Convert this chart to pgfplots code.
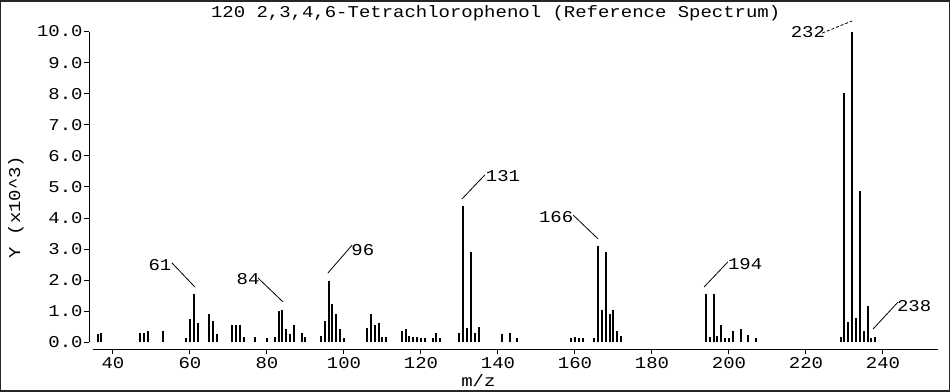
\documentclass[border=0pt]{standalone}
\usepackage{fontspec}
\setmainfont{Liberation Mono}[FakeStretch=1.15]
\usepackage{pgfplots}
\pgfplotsset{compat=1.18}
\begin{document}
\begin{tikzpicture}[font=\fontsize{16.5bp}{19bp}\selectfont]
\begin{axis}[
  scale only axis, width=848.5bp, height=317.8bp,
  xmin=33.8, xmax=254.2, ymin=-0.22, ymax=10,
  axis x line*=bottom, axis y line*=left,
  axis line style={draw=none,-},
  clip=false,
  tick align=outside, major tick length=5bp,
  tick style={black, line width=1bp},
  xtick={40,60,...,240},
  xticklabels={40,60,80,100,120,140,160,180,200,220,240},
  ytick={0,1,...,10},
  yticklabels={0.0,1.0,2.0,3.0,4.0,5.0,6.0,7.0,8.0,9.0,10.0},
  yticklabel style={xshift=2bp},
]
\addplot[ycomb, line width=2bp, black, mark=none] table {
x y
36 0.27
37 0.30
47 0.32
48 0.32
49 0.36
53 0.37
59 0.13
60 0.75
61 1.55
62 0.62
65 0.93
66 0.69
67 0.26
71 0.56
72 0.56
73 0.56
74 0.18
77 0.18
80 0.13
82 0.18
83 1.00
84 1.05
85 0.43
86 0.26
87 0.56
89 0.32
90 0.18
94 0.20
95 0.68
96 1.98
97 1.23
98 0.93
99 0.43
100 0.13
106 0.48
107 0.93
108 0.57
109 0.62
110 0.19
111 0.19
115 0.38
116 0.43
117 0.21
118 0.19
119 0.19
120 0.13
121 0.13
123 0.13
124 0.32
125 0.13
130 0.32
131 4.39
132 0.48
133 2.92
134 0.32
135 0.50
141 0.27
143 0.32
145 0.13
159 0.13
160 0.18
161 0.13
162 0.13
165 0.13
166 3.10
167 1.05
168 2.90
169 0.93
170 1.05
171 0.38
172 0.21
194 1.55
195 0.18
196 1.55
197 0.21
198 0.56
199 0.13
200 0.16
201 0.38
203 0.43
205 0.25
207 0.13
229 0.18
230 8.02
231 0.66
232 10.0
233 0.80
234 4.88
235 0.38
236 1.18
237 0.16
238 0.18
};
% axis lines
\draw[line width=1.2bp] (axis cs:34.8,-0.22) -- (axis cs:254.2,-0.22);
\draw[line width=1.2bp] (axis cs:33.8,0) -- (axis cs:33.8,10);
% annotations
\draw[line width=0.8bp] (axis cs:55.3,2.56) -- (axis cs:61.3,1.78);
\node at (axis cs:52.2,2.49) {61};
\draw[line width=0.8bp] (axis cs:77.7,2.07) -- (axis cs:84.2,1.30);
\node at (axis cs:75.1,2.04) {84};
\draw[line width=0.8bp] (axis cs:95.8,2.23) -- (axis cs:102.1,3.13);
\node at (axis cs:104.9,2.97) {96};
\draw[line width=0.8bp] (axis cs:130.6,4.61) -- (axis cs:136.6,5.39);
\node at (axis cs:141.3,5.35) {131};
\draw[line width=0.8bp] (axis cs:159.5,4.10) -- (axis cs:166.0,3.33);
\node at (axis cs:155.1,4.04) {166};
\draw[line width=0.8bp] (axis cs:193.5,1.78) -- (axis cs:199.7,2.59);
\node at (axis cs:204.2,2.52) {194};
\draw[line width=0.8bp] (axis cs:237.4,0.43) -- (axis cs:243.9,1.30);
\node at (axis cs:248.1,1.17) {238};
\draw[line width=0.8bp, densely dashed] (axis cs:224.2,9.95) -- (axis cs:232.0,10.34);
\node at (axis cs:220.5,9.98) {232};
% title and labels
\node at (axis cs:139.4,10.59) {120 2,3,4,6-Tetrachlorophenol (Reference Spectrum)};
\node[rotate=90] at (axis cs:14.8,4.36) {Y (x10\^{}3)};
\node at (axis cs:134.9,-1.24) {m/z};
% frame
\draw[line width=1.5bp, black!85] (axis cs:10.844,10.989) rectangle (axis cs:257.21,-1.5675);
\end{axis}
\end{tikzpicture}
\end{document}
